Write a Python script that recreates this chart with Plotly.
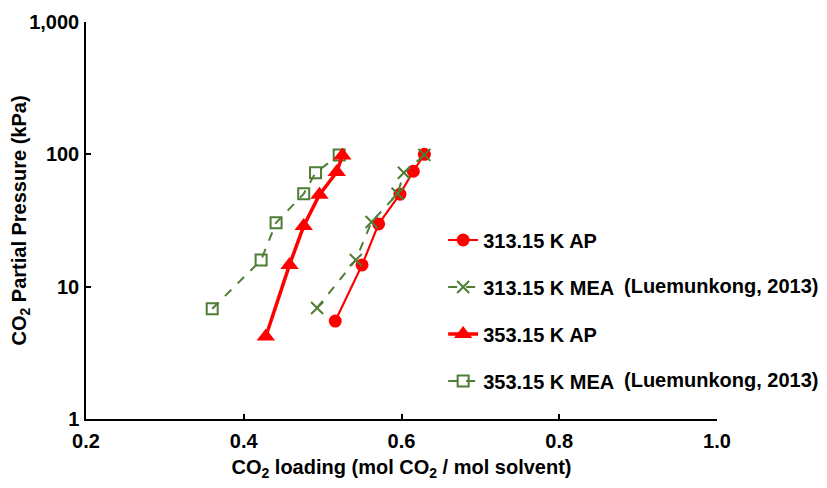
import plotly.graph_objects as go

# Data
ap313_x = [0.516, 0.550, 0.571, 0.598, 0.615, 0.629]
ap313_y = [5.5, 14.6, 29.8, 50.0, 74.5, 100.0]

mea313_x = [0.493, 0.542, 0.562, 0.595, 0.603, 0.629]
mea313_y = [6.9, 15.9, 30.8, 50.3, 72.5, 99.0]

ap353_x = [0.428, 0.458, 0.476, 0.496, 0.518, 0.525]
ap353_y = [4.2, 14.6, 28.7, 49.5, 73.5, 98.0]

mea353_x = [0.360, 0.422, 0.441, 0.476, 0.491, 0.521]
mea353_y = [6.8, 15.9, 30.4, 50.3, 72.5, 99.0]

names = ["313.15 K AP", "313.15 K MEA", "353.15 K AP", "353.15 K MEA"]
citation = "(Luemunkong, 2013)"

x_ticks = [0.2, 0.4, 0.6, 0.8, 1.0]
x_ticktext = ["0.2", "0.4", "0.6", "0.8", "1.0"]
y_ticks = [1, 10, 100, 1000]
y_ticktext = ["1", "10", "100", "1,000"]

RED = "#FF0000"
GREEN = "#4E7D36"
FONT = "Liberation Sans, Arial, sans-serif"
FS = 20

fig = go.Figure()

# draw order: 353 MEA, 353 AP, 313 AP, 313 MEA
fig.add_trace(go.Scatter(
    x=mea353_x, y=mea353_y, name=names[3], legendrank=4, legendgroup="d",
    mode="lines+markers",
    line=dict(color=GREEN, width=2, dash="dash"),
    marker=dict(symbol="square-open", size=11, color=GREEN, line=dict(width=2, color=GREEN)),
))
fig.add_trace(go.Scatter(
    x=ap353_x, y=ap353_y, name=names[2], legendrank=3, legendgroup="c",
    mode="lines+markers",
    line=dict(color=RED, width=3.5),
    marker=dict(symbol="triangle-up", size=16, color=RED),
))
fig.add_trace(go.Scatter(
    x=ap313_x, y=ap313_y, name=names[0], legendrank=1, legendgroup="a",
    mode="lines+markers",
    line=dict(color=RED, width=2.2),
    marker=dict(symbol="circle", size=13, color=RED),
))
fig.add_trace(go.Scatter(
    x=mea313_x, y=mea313_y, name=names[1], legendrank=2, legendgroup="b",
    mode="lines+markers",
    line=dict(color=GREEN, width=2, dash="dash"),
    marker=dict(symbol="x-thin", size=12, color=GREEN, line=dict(width=2, color=GREEN)),
))

# page has an 8px body margin, so the figure is drawn 8px smaller
fig.update_layout(
    width=819, height=480,
    margin=dict(l=78, r=110, t=14, b=69),
    paper_bgcolor="white", plot_bgcolor="white",
    font=dict(family=FONT, size=FS, color="black"),
    showlegend=True,
    legend=dict(
        x=0.566, y=0.50, xanchor="left", yanchor="top",
        traceorder="grouped", tracegroupgap=18,
        font=dict(family=FONT, size=FS, color="black", weight="bold"),
        bgcolor="rgba(0,0,0,0)",
    ),
    xaxis=dict(
        range=[0.2, 1.0], tickvals=x_ticks, ticktext=x_ticktext,
        showline=True, linecolor="black", linewidth=1.5,
        ticks="inside", ticklen=5, tickwidth=1.5, tickcolor="black",
        showgrid=False, zeroline=False, automargin=False,
        ticklabelstandoff=3,
        tickfont=dict(family=FONT, size=FS, weight="bold"),
        title=dict(text="CO<sub>2</sub> loading (mol CO<sub>2</sub> / mol solvent)",
                   font=dict(family=FONT, size=FS, weight="bold"), standoff=9),
    ),
    yaxis=dict(
        type="log", range=[0, 3], tickvals=y_ticks, ticktext=y_ticktext,
        showline=True, linecolor="black", linewidth=1.5,
        ticks="inside", ticklen=5, tickwidth=1.5, tickcolor="black",
        showgrid=False, zeroline=False, automargin=False,
        ticklabelstandoff=1,
        tickfont=dict(family=FONT, size=FS, weight="bold"),
        title=dict(text="CO<sub>2</sub> Partial Pressure (kPa)",
                   font=dict(family=FONT, size=FS, weight="bold"), standoff=8),
    ),
)

for yy in [286, 380]:
    fig.add_annotation(
        text=citation, xref="paper", yref="paper",
        x=(622 - 86) / 631, y=(419 - yy) / 397,
        xanchor="left", yanchor="middle", showarrow=False,
        font=dict(family=FONT, size=FS, color="black", weight="bold"),
    )

fig.write_html("out.html")
